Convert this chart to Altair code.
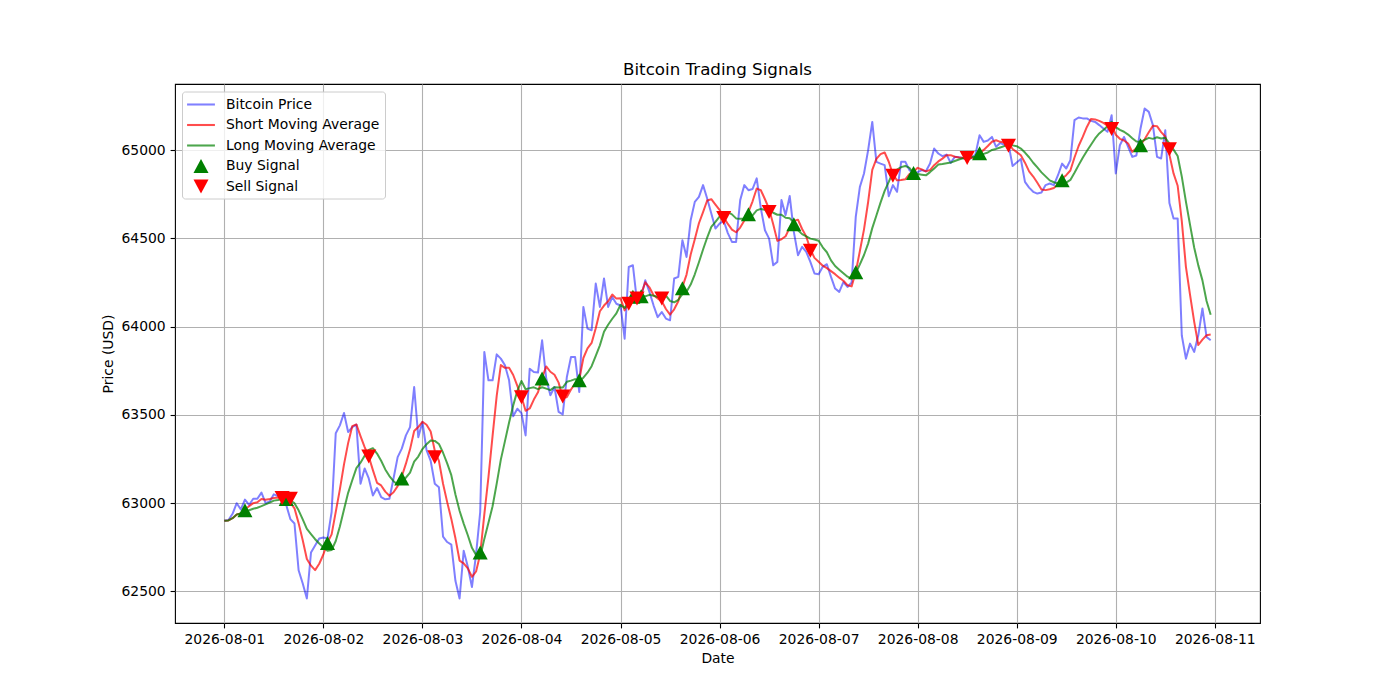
import altair as alt
import pandas as pd

# ---- data (hourly prices, 2026-08-01 00:00 .. 2026-08-10 23:00) ----
price = [
    62900, 62905, 62940, 63000, 62965, 63020, 62990, 63025, 63025, 63060, 63000, 63010,
    63050, 63040, 63030, 62990, 62910, 62885, 62620, 62545, 62460, 62720, 62760, 62800,
    62806, 62800, 62950, 63396, 63441, 63511, 63403, 63431, 63445, 63110, 63197, 63140,
    63044, 63086, 63035, 63022, 63025, 63140, 63261, 63309, 63384, 63431, 63658, 63374,
    63460, 63300, 63240, 63110, 63090, 62810, 62780, 62765, 62560, 62460, 62730, 62640,
    62525, 62710, 62950, 63857, 63696, 63696, 63843, 63819, 63781, 63696, 63492, 63535,
    63510, 63384, 63762, 63743, 63740, 63923, 63706, 63611, 63658, 63517, 63503, 63715,
    63828, 63828, 63630, 64112, 63989, 63980, 64244, 64112, 64273, 64112, 64168, 64130,
    64120, 63932, 64338, 64348, 64140, 64168, 64263, 64197, 64121, 64054, 64083, 64046,
    64036, 64273, 64282, 64490, 64395, 64603, 64707, 64735, 64802, 64726, 64641, 64556,
    64584, 64600, 64530, 64480, 64480, 64717, 64802, 64773, 64780, 64840, 64670, 64546,
    64499, 64348, 64367, 64717, 64632, 64740, 64537, 64405, 64452, 64424, 64367, 64301,
    64297, 64339, 64354, 64282, 64216, 64197, 64253, 64225, 64250, 64622, 64792, 64868,
    65000, 65160, 64934, 64924, 64915, 64739, 64802, 64764, 64934, 64934, 64887, 64870,
    64875, 64887, 64880, 64924, 65009, 64981, 64966, 64975, 64928, 64962, 64960, 64955,
    64945, 64955, 64975, 65085, 65047, 65055, 65075, 65019, 65040, 65030, 65035, 64910,
    64930, 64950, 64820, 64788, 64764, 64754, 64760, 64802, 64811, 64802, 64858, 64924,
    64896, 64943, 65170, 65185, 65180, 65180, 65166, 65160, 65142, 65123, 65104, 65198,
    64868, 65028, 65075, 65019, 64962, 64970, 65123, 65236, 65217, 65142, 64962, 64953,
    65113, 64700, 64613, 64613, 63950, 63819, 63904, 63857, 63951, 64103, 63942, 63923,
]
start = "2026-08-01 00:00"

buy_hours = [5, 15, 25, 43, 62, 77, 86, 99, 101, 111, 127, 138, 153, 167, 183, 203, 222]
buy_prices = [62960, 63023, 62775, 63140, 62720, 63707, 63697, 64170, 64172, 64218,
              64637, 64580, 64308, 64870, 64983, 64830, 65028]
sell_hours = [14, 16, 35, 51, 72, 82, 98, 100, 106, 121, 132, 142, 162, 180, 190, 215, 229]
sell_prices = [63030, 63025, 63265, 63260, 63600, 63605, 64130, 64160, 64160, 64615,
               64650, 64430, 64855, 64955, 65025, 65120, 65005]

labels = ["Bitcoin Price", "Short Moving Average", "Long Moving Average", "Buy Signal", "Sell Signal"]
SHORT_WINDOW = 5
LONG_WINDOW = 10
y_ticks = [62500, 63000, 63500, 64000, 64500, 65000]
day_ticks = list(range(1, 12))

# ---- tables ----
fmt = "%Y-%m-%dT%H:%M:%S"
times = pd.date_range(start, periods=len(price), freq="h")
df = pd.DataFrame({"t": times.strftime(fmt), "i": range(len(price)), "price": price})
sig = pd.DataFrame({
    "t": [times[h].strftime(fmt) for h in buy_hours] + [times[h].strftime(fmt) for h in sell_hours],
    "price": buy_prices + sell_prices,
    "series": ["Buy Signal"] * len(buy_hours) + ["Sell Signal"] * len(sell_hours),
})

# matplotlib-like 5% margins
span = times[-1] - times[0]
t_lo = times[0] - span * 0.05
t_hi = times[-1] + span * 0.05


def dt(ts):
    return alt.DateTime(year=ts.year, month=ts.month, date=ts.day,
                        hours=ts.hour, minutes=ts.minute, seconds=ts.second)


lo, hi = min(price), max(price)
pad = (hi - lo) * 0.05
y_dom = [lo - pad, hi + pad]

FONT = "DejaVu Sans"
xaxis = alt.Axis(values=[alt.DateTime(year=2026, month=8, date=d) for d in day_ticks],
                 format="%Y-%m-%d", labelAngle=0, labelFlush=False, labelOverlap=False,
                 title="Date", titlePadding=5)
yaxis = alt.Axis(values=y_ticks, format="d", labelFlush=False, labelOverlap=False,
                 title="Price (USD)", titlePadding=6)

xenc = alt.X("t:T", scale=alt.Scale(domain=[dt(t_lo), dt(t_hi)]), axis=xaxis)


def yenc(field):
    return alt.Y(f"{field}:Q", scale=alt.Scale(domain=y_dom, zero=False, nice=False), axis=yaxis)


base = alt.Chart(df)
price_line = base.mark_line(color="#0000ff", opacity=0.5, strokeWidth=2, strokeJoin="round").encode(
    x=xenc, y=yenc("price"))
short_line = base.transform_window(
    ma="mean(price)", frame=[-(SHORT_WINDOW - 1), 0], sort=[alt.SortField("i")]
).mark_line(color="#ff0000", opacity=0.7, strokeWidth=2, strokeJoin="round").encode(
    x=xenc, y=yenc("ma"))
long_line = base.transform_window(
    ma="mean(price)", frame=[-(LONG_WINDOW - 1), 0], sort=[alt.SortField("i")]
).mark_line(color="#008000", opacity=0.7, strokeWidth=2, strokeJoin="round").encode(
    x=xenc, y=yenc("ma"))

LINE_PATH = "M-1.74,-0.13L1.74,-0.13L1.74,0.13L-1.74,0.13Z"
TRI_UP = "M0,-0.875L0.94,0.875L-0.94,0.875Z"
TRI_DOWN = "M0,0.875L0.94,-0.875L-0.94,-0.875Z"
color_range = ["#8080ff", "#ff4d4d", "#4da64d", "#008000", "#ff0000"]
shape_range = [LINE_PATH, LINE_PATH, LINE_PATH, TRI_UP, TRI_DOWN]

legend = alt.Legend(title=None, orient="none", legendX=7, legendY=7.5,
                    fillColor="rgba(255,255,255,0.8)", strokeColor="#cccccc", cornerRadius=3,
                    padding=5, labelFont=FONT, labelFontSize=13.9, labelColor="black",
                    labelLimit=400, symbolSize=256, symbolStrokeWidth=0, symbolOffset=6,
                    labelOffset=17, rowPadding=5.5)

points = alt.Chart(sig).mark_point(filled=True, size=256, opacity=1, strokeWidth=0).encode(
    x=xenc, y=yenc("price"),
    color=alt.Color("series:N", scale=alt.Scale(domain=labels, range=color_range), legend=legend),
    shape=alt.Shape("series:N", scale=alt.Scale(domain=labels, range=shape_range), legend=legend),
)

chart = alt.layer(price_line, short_line, long_line, points).properties(
    width=1085, height=539,
    autosize=alt.AutoSizeParams(type="none"),
    padding={"left": 167, "top": 76, "right": 124, "bottom": 60},
    title=alt.Title("Bitcoin Trading Signals", font=FONT, fontSize=16.7, fontWeight="normal",
                    color="black", anchor="middle", offset=5),
    background="white",
).configure_view(
    stroke="black", strokeWidth=1.1
).configure_axis(
    grid=True, gridColor="#b0b0b0", gridWidth=1.1, domain=False,
    tickColor="black", tickSize=4.9, tickWidth=1.1, labelPadding=4.9,
    labelFont=FONT, labelFontSize=13.9, labelColor="black",
    titleFont=FONT, titleFontSize=13.9, titleFontWeight="normal", titleColor="black",
)

chart.save("out.html", embed_options={"renderer": "svg", "actions": False})
